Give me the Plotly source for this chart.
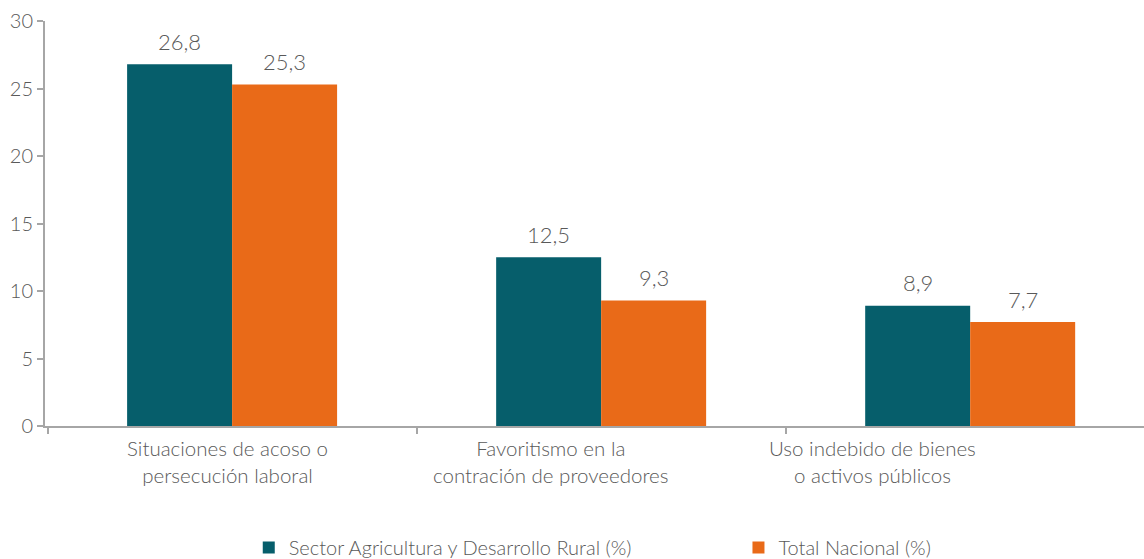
import plotly.graph_objects as go

categories = ["Situaciones de acoso o<br>persecución laboral",
              "Favoritismo en la<br>contración de proveedores",
              "Uso indebido de bienes<br>o activos públicos"]
sector_values = [26.8, 12.5, 8.9]
nacional_values = [25.3, 9.3, 7.7]
series_names = ["Sector Agricultura y Desarrollo Rural (%)", "Total Nacional (%)"]
y_ticks = [0, 5, 10, 15, 20, 25, 30]

TEAL = "#065E6B"
ORANGE = "#E96A18"
GREY_TXT = "#595959"
AXIS = "#A6A6A6"
FONT = "Lato Light, Lato"
W = 300

fig = go.Figure()
for name, vals, col, lg in [(series_names[0], sector_values, TEAL, "legend"),
                            (series_names[1], nacional_values, ORANGE, "legend2")]:
    fig.add_trace(go.Bar(
        x=list(range(len(categories))), y=vals, name=name, marker_color=col,
        marker_line_width=0, legend=lg,
    ))

# data labels
bar_half = 52.5
for vals, sh in [(sector_values, -bar_half), (nacional_values, bar_half)]:
    for i, v in enumerate(vals):
        fig.add_annotation(x=i, y=v, text=f"{v:.1f}".replace(".", ","), showarrow=False,
                           xshift=sh, yshift=23, yanchor="middle",
                           font=dict(size=22, color=GREY_TXT, family=FONT, weight=W))

# category labels (as in the reference, offset to the left)
label_shift = [-5, -50, -98]
for i, c in enumerate(categories):
    fig.add_annotation(x=i, y=0, yref="y", text=c, showarrow=False,
                       xshift=label_shift[i], yshift=-8, yanchor="top",
                       font=dict(size=20.5, color=GREY_TXT, family=FONT, weight=W))

leg_font = dict(size=20, color=GREY_TXT, family=FONT, weight=W)
fig.update_layout(
    width=1144, height=559,
    margin=dict(l=45, r=0, t=21, b=133, autoexpand=False),
    plot_bgcolor="white", paper_bgcolor="white",
    barmode="group", bargap=0.431, bargroupgap=0,
    font=dict(family=FONT, color=GREY_TXT, size=18, weight=W),
    showlegend=True,
    legend=dict(orientation="h", x=0.1854, xanchor="left", y=-0.300, yanchor="middle",
                font=leg_font, bgcolor="rgba(0,0,0,0)"),
    legend2=dict(orientation="h", x=0.631, xanchor="left", y=-0.300, yanchor="middle",
                 font=leg_font, bgcolor="rgba(0,0,0,0)"),
    xaxis=dict(range=[-0.507, 2.471], showline=True, linecolor=AXIS, linewidth=2,
               tickvals=[-0.5, 0.5, 1.5], ticktext=["", "", ""],
               ticks="outside", ticklen=6, tickcolor=AXIS, tickwidth=2,
               showgrid=False, zeroline=False, automargin=False),
    yaxis=dict(range=[0, 30], tickvals=y_ticks, showline=True, linecolor=AXIS, linewidth=2,
               ticks="outside", ticklen=6, tickcolor=AXIS, tickwidth=2,
               tickfont=dict(size=20, color=GREY_TXT, family=FONT, weight=W),
               showgrid=False, zeroline=False, automargin=False),
)

fig.write_html("out.html", config={"displayModeBar": False},
               post_script="document.body.style.margin='0';document.body.style.overflow='hidden';")
